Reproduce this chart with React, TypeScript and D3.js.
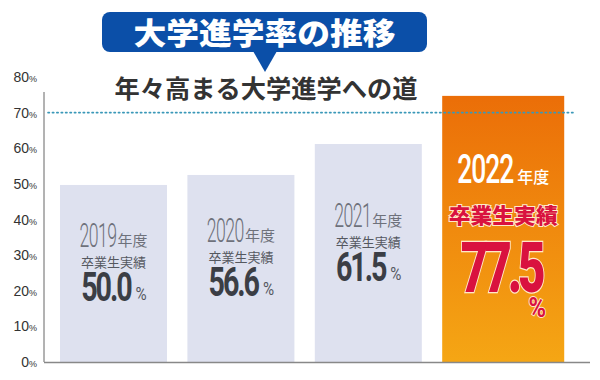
import React from "react";
import * as d3 from "d3";

const years = ["2019", "2020", "2021", "2022"];
const rates = ["50.0", "56.6", "61.5", "77.5"];
// bar heights as drawn in the picture (in % units of the axis)
const barHeights = [49.7, 52.5, 61.2, 74.7];
const yTicks = [0, 10, 20, 30, 40, 50, 60, 70, 80];
const refLine = 70;
const title = "大学進学率の推移";
const subtitle = "年々高まる大学進学への道";
const labelGrad = "卒業生実績";
const labelYear = "年度";

const W = 600;
const H = 380;

type CondProps = {
  x: number;
  y: number;
  sx: number;
  anchor?: "start" | "middle" | "end";
  children: React.ReactNode;
  [k: string]: any;
};

function Cond({ x, y, sx, anchor = "start", children, ...rest }: CondProps) {
  return (
    <text transform={`translate(${x},${y}) scale(${sx},1)`} textAnchor={anchor} {...rest}>
      {children}
    </text>
  );
}

export default function App() {
  const y = d3.scaleLinear().domain([0, 80]).range([362, 77]);
  const x = d3
    .scaleBand<string>()
    .domain(years)
    .range([60, 60 + 127.4 * 3.84])
    .paddingInner(0.16)
    .paddingOuter(0);
  const bw = x.bandwidth();
  const last = years.length - 1;
  const cjk = "'Noto Sans CJK JP', sans-serif";
  const num = "Roboto, 'Liberation Sans', sans-serif";

  return (
    <svg
      width={W}
      height={H}
      viewBox={`0 0 ${W} ${H}`}
      style={{ position: "absolute", left: 0, top: 0, background: "#fff" }}
    >
      <defs>
        <linearGradient id="hl" x1="0" y1="0" x2="0" y2="1">
          <stop offset="0" stopColor="#EB6E08" />
          <stop offset="0.5" stopColor="#F08A0E" />
          <stop offset="1" stopColor="#F5A614" />
        </linearGradient>
      </defs>

      {/* y tick labels */}
      {yTicks.map((t) => (
        <text
          key={t}
          x={37}
          y={y(t) + 5}
          textAnchor="end"
          fontFamily="'Liberation Sans', Arial, sans-serif"
          fill="#333"
        >
          <tspan fontSize={14}>{t}</tspan>
          <tspan fontSize={9}>%</tspan>
        </text>
      ))}

      {/* bars */}
      {years.map((yr, i) => {
        const x0 = x(yr)!;
        const w = i === last ? bw + 15 : bw;
        const top = y(barHeights[i]);
        return (
          <rect
            key={yr}
            x={x0}
            y={top}
            width={w}
            height={y(0) - top}
            fill={i === last ? "url(#hl)" : "#DEE1EF"}
          />
        );
      })}

      {/* axes */}
      <line x1={44} x2={44} y1={92} y2={y(0)} stroke="#666" strokeWidth={1} />
      <line x1={44} x2={590} y1={y(0) + 0.5} y2={y(0) + 0.5} stroke="#888" strokeWidth={1.5} />

      {/* reference dotted line */}
      <line
        x1={48}
        x2={576}
        y1={y(refLine)}
        y2={y(refLine)}
        stroke="#3A98B8"
        strokeWidth={1.6}
        strokeDasharray="1.4 3"
        strokeLinecap="round"
      />

      {/* gray bar labels */}
      {years.slice(0, last).map((yr, i) => {
        const cx = x(yr)! + bw / 2;
        const top = y(barHeights[i]);
        const mid = (top + y(0)) / 2;
        const yb = mid - 26;
        return (
          <g key={yr}>
            <Cond
              x={cx + 3}
              y={yb}
              sx={0.52}
              anchor="end"
              fontFamily={num}
              fontWeight={300}
              fontSize={34}
              letterSpacing={-1}
              fill="#6E717B"
            >
              {yr}
            </Cond>
            <text x={cx + 4} y={yb - 1} fontFamily={cjk} fontSize={15} fill="#6E717B">
              {labelYear}
            </text>
            <text
              x={cx}
              y={yb + 20}
              textAnchor="middle"
              fontFamily={cjk}
              fontSize={13}
              fill="#55585F"
            >
              {labelGrad}
            </text>
            <Cond
              x={cx + 17}
              y={yb + 54}
              sx={0.7}
              anchor="end"
              fontFamily={num}
              fontWeight={700}
              fontSize={41}
              letterSpacing={-3}
              fill="#3B3E45"
            >
              {rates[i]}
            </Cond>
            <Cond
              x={cx + 22}
              y={yb + 53}
              sx={0.8}
              fontFamily={num}
              fontSize={19}
              fill="#55585F"
            >
              %
            </Cond>
          </g>
        );
      })}

      {/* highlighted bar labels */}
      {(() => {
        const cx = x(years[last])! + (bw + 15) / 2;
        const top = y(barHeights[last]);
        return (
          <g>
            <Cond
              x={cx + 10}
              y={top + 87}
              sx={0.66}
              anchor="end"
              fontFamily={num}
              fontWeight={500}
              fontSize={40}
              letterSpacing={-1.5}
              fill="#fff"
            >
              {years[last]}
            </Cond>
            <text x={cx + 14} y={top + 87} fontFamily={cjk} fontWeight={500} fontSize={16} fill="#fff">
              {labelYear}
            </text>
            <text
              x={cx}
              y={top + 127}
              textAnchor="middle"
              fontFamily={cjk}
              fontWeight={900}
              fontSize={21}
              fill="#D9123F"
              stroke="#FFE9C8"
              strokeWidth={2}
              paintOrder="stroke"
              textLength={109}
              lengthAdjust="spacingAndGlyphs"
            >
              {labelGrad}
            </text>
            <Cond
              x={cx - 2}
              y={top + 196}
              sx={0.68}
              anchor="middle"
              fontFamily={num}
              fontWeight={900}
              fontSize={70}
              letterSpacing={-6}
              fill="#D9123F"
              stroke="#FFE9C8"
              strokeWidth={2.5}
              paintOrder="stroke"
            >
              {rates[last]}
            </Cond>
            <Cond
              x={cx + 34}
              y={top + 221}
              sx={0.85}
              anchor="middle"
              fontFamily={num}
              fontWeight={700}
              fontSize={28}
              fill="#D9123F"
              stroke="#FFE9C8"
              strokeWidth={2}
              paintOrder="stroke"
            >
              %
            </Cond>
          </g>
        );
      })()}

      {/* title bubble */}
      <rect x={102} y={12} width={325} height={40} rx={8} fill="#0B4FA8" />
      <path d="M253,51 L277,51 L265,72 Z" fill="#0B4FA8" />
      <text
        x={264.5}
        y={44}
        textAnchor="middle"
        fontFamily={cjk}
        fontWeight={900}
        fontSize={30}
        fill="#fff"
        textLength={262}
        lengthAdjust="spacingAndGlyphs"
      >
        {title}
      </text>
      <text
        x={266}
        y={98}
        textAnchor="middle"
        fontFamily={cjk}
        fontWeight={700}
        fontSize={25}
        fill="#333"
        textLength={303}
        lengthAdjust="spacingAndGlyphs"
      >
        {subtitle}
      </text>
    </svg>
  );
}
